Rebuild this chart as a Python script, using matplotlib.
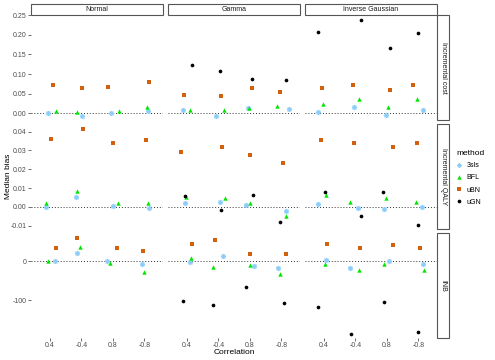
import numpy as np
import matplotlib
matplotlib.use("Agg")
import matplotlib.pyplot as plt
from matplotlib.patches import Rectangle
from matplotlib.lines import Line2D

plt.rcParams['font.family'] = ['Liberation Sans', 'DejaVu Sans']
plt.rcParams['axes.unicode_minus'] = False

# ---------------- data ----------------
correlations = ["0.4", "-0.4", "0.8", "-0.8"]
distributions = ["Normal", "Gamma", "Inverse Gaussian"]
outcomes = ["Incremental cost", "Incremental QALY", "INB"]
methods = ["3sls", "BFL", "uBN", "uGN"]

# values ordered: Normal(0.4,-0.4,0.8,-0.8), Gamma(...), Inverse Gaussian(...)
cost_3sls = [0.000, -0.006, 0.000, 0.006, 0.009, -0.006, 0.014, 0.010, 0.003, 0.016, -0.005, 0.007]
cost_BFL = [0.006, 0.003, 0.005, 0.017, 0.008, 0.008, 0.012, 0.019, 0.023, 0.035, 0.017, 0.035]
cost_uBN = [0.072, 0.065, 0.068, 0.080, 0.047, 0.045, 0.065, 0.054, 0.065, 0.071, 0.058, 0.071]
cost_uGN = [np.nan, np.nan, np.nan, np.nan, 0.122, 0.107, 0.088, 0.084, 0.207, 0.238, 0.166, 0.205]

qaly_3sls = [0.0000, 0.0053, 0.0003, -0.0004, 0.0023, 0.0024, 0.0009, -0.0021, 0.0017, -0.0007, -0.0011, 0.0000]
qaly_BFL = [0.0023, 0.0083, 0.0021, 0.0023, 0.0051, 0.0049, 0.0023, -0.0050, 0.0065, 0.0028, 0.0047, 0.0028]
qaly_uBN = [0.0360, 0.0414, 0.0340, 0.0356, 0.0291, 0.0321, 0.0278, 0.0236, 0.0358, 0.0338, 0.0320, 0.0338]
qaly_uGN = [np.nan, np.nan, np.nan, np.nan, 0.0056, -0.0018, 0.0061, -0.0078, 0.0079, -0.0046, 0.0079, -0.0094]

inb_3sls = [0, 20, 0, -8, -3, 12, -13, -17, 2, -19, 1, -8]
inb_BFL = [1, 36, -5, -27, 8, -14, -11, -34, -8, -22, -8, -22]
inb_uBN = [33, 59, 33, 27, 44, 54, 18, 18, 44, 33, 41, 33]
inb_uGN = [np.nan, np.nan, np.nan, np.nan, -103, -113, -67, -108, -117, -186, -105, -181]

# horizontal jitter (category units)
jit_cost_3sls = [-0.06, 0.03, -0.05, 0.10, -0.13, -0.07, -0.07, 0.24, -0.17, -0.04, -0.04, 0.14]
jit_cost_BFL = [0.20, -0.15, 0.18, 0.07, 0.11, 0.17, -0.03, -0.13, -0.01, 0.12, 0.04, -0.06]
jit_cost_uBN = [0.10, 0.02, -0.15, 0.13, -0.09, 0.09, 0.06, -0.05, -0.06, -0.07, 0.11, -0.16]
jit_cost_uGN = [0, 0, 0, 0, 0.17, 0.07, 0.08, 0.14, -0.18, 0.17, 0.09, -0.02]

jit_qaly_3sls = [-0.12, -0.18, -0.01, 0.13, -0.05, 0.07, -0.11, 0.14, -0.19, 0.09, -0.08, 0.11]
jit_qaly_BFL = [-0.11, -0.13, 0.17, 0.12, -0.03, 0.21, 0.02, 0.14, 0.06, -0.18, -0.04, -0.07]
jit_qaly_uBN = [0.05, 0.05, -0.01, 0.04, -0.17, 0.11, -0.01, 0.04, -0.09, -0.05, 0.19, -0.05]
jit_qaly_uGN = [0, 0, 0, 0, -0.04, 0.09, 0.09, -0.03, 0.05, 0.19, -0.12, -0.02]

jit_inb_3sls = [0.18, -0.14, -0.17, -0.07, 0.10, 0.15, 0.13, -0.12, 0.07, -0.16, 0.06, 0.14]
jit_inb_BFL = [-0.06, -0.04, -0.08, -0.01, 0.14, -0.16, 0.02, -0.06, 0.04, 0.12, -0.10, 0.19]
jit_inb_uBN = [0.19, -0.12, 0.12, -0.04, 0.16, -0.10, 0.01, 0.16, 0.09, 0.16, 0.18, 0.04]
jit_inb_uGN = [0, 0, 0, 0, -0.12, -0.18, -0.12, 0.07, -0.17, -0.12, -0.09, -0.01]

values = {
    "Incremental cost": [cost_3sls, cost_BFL, cost_uBN, cost_uGN],
    "Incremental QALY": [qaly_3sls, qaly_BFL, qaly_uBN, qaly_uGN],
    "INB": [inb_3sls, inb_BFL, inb_uBN, inb_uGN],
}
jitters = {
    "Incremental cost": [jit_cost_3sls, jit_cost_BFL, jit_cost_uBN, jit_cost_uGN],
    "Incremental QALY": [jit_qaly_3sls, jit_qaly_BFL, jit_qaly_uBN, jit_qaly_uGN],
    "INB": [jit_inb_3sls, jit_inb_BFL, jit_inb_uBN, jit_inb_uGN],
}
yticks = {
    "Incremental cost": ([0.00, 0.05, 0.10, 0.15, 0.20, 0.25], ["0.00", "0.05", "0.10", "0.15", "0.20", "0.25"]),
    "Incremental QALY": ([-0.01, 0.00, 0.01, 0.02, 0.03, 0.04], ["-0.01", "0.00", "0.01", "0.02", "0.03", "0.04"]),
    "INB": ([-100, 0], ["-100", "0"]),
}

# ---------------- styles ----------------
styles = {
    "3sls": dict(marker=(8, 2, 0), s=9, color="#8dcdf8", linewidths=0.8),
    "BFL": dict(marker="^", s=10, color="#00e600", linewidths=0),
    "uBN": dict(marker="s", s=8, color="#d2610f", linewidths=0),
    "uGN": dict(marker="o", s=7, color="black", linewidths=0),
}

W, H = 495.0, 360.0
fig = plt.figure(figsize=(W / 100, H / 100), dpi=100)

col_left = [30.7, 167.7, 304.7]
col_w = 132.7
row_top = [15.3, 124.3, 233.3]
row_h = 105.0


def rect(l, t, w, h):
    return [l / W, 1 - (t + h) / H, w / W, h / H]


for r, outcome in enumerate(outcomes):
    allv = np.concatenate([np.array(v, dtype=float) for v in values[outcome]])
    lo, hi = np.nanmin(allv), np.nanmax(allv)
    pad = 0.05 * (hi - lo)
    for c, dist in enumerate(distributions):
        ax = fig.add_axes(rect(col_left[c], row_top[r], col_w, row_h))
        ax.set_facecolor("white")
        for s in ax.spines.values():
            s.set_visible(False)
        ax.axhline(0, color="#333333", lw=0.7, ls=(0, (1, 2)), zorder=1)
        for m, meth in enumerate(methods):
            vals = np.array(values[outcome][m][4 * c:4 * c + 4], dtype=float)
            jit = np.array(jitters[outcome][m][4 * c:4 * c + 4], dtype=float)
            xs = np.arange(4) + jit
            ax.scatter(xs, vals, zorder=3, **styles[meth])
        ax.set_xlim(-0.6, 3.6)
        ax.set_ylim(lo - pad, hi + pad)
        ax.set_xticks(range(4))
        ax.set_xticklabels(correlations)
        tv, tl = yticks[outcome]
        ax.set_yticks(tv)
        ax.set_yticklabels(tl)
        ax.tick_params(length=2, width=0.5, color="#333333", labelsize=5,
                       labelcolor="#4d4d4d", pad=1)
        if c != 0:
            ax.tick_params(axis="y", left=False, labelleft=False)
        if r != 2:
            ax.tick_params(axis="x", bottom=False, labelbottom=False)

# top strips
for c, dist in enumerate(distributions):
    fig.patches.append(Rectangle((col_left[c] / W, 1 - 15.3 / H), col_w / W, 11.3 / H,
                                 transform=fig.transFigure, facecolor="white",
                                 edgecolor="#555555", lw=0.8))
    fig.text((col_left[c] + col_w / 2) / W, 1 - 9.6 / H, dist, ha="center", va="center",
             fontsize=5, color="#1a1a1a")

# right strips
sx = col_left[2] + col_w
for r, outcome in enumerate(outcomes):
    fig.patches.append(Rectangle((sx / W, 1 - (row_top[r] + row_h) / H), 11.5 / W, row_h / H,
                                 transform=fig.transFigure, facecolor="white",
                                 edgecolor="#555555", lw=0.8))
    fig.text((sx + 5.75) / W, 1 - (row_top[r] + row_h / 2) / H, outcome, ha="center",
             va="center", rotation=-90, fontsize=5, color="#1a1a1a")

# axis titles
fig.text((col_left[0] + col_left[2] + col_w) / 2 / W, 1 - 352 / H, "Correlation",
         ha="center", va="center", fontsize=6)
fig.text(9 / W, 1 - 176.6 / H, "Median bias", ha="center", va="center",
         rotation=90, fontsize=6)

# legend
handles = []
for meth in methods:
    st = styles[meth]
    handles.append(Line2D([], [], linestyle="none", marker=st["marker"], color=st["color"],
                          markersize=np.sqrt(st["s"]),
                          markeredgewidth=st["linewidths"] if meth == "3sls" else 0))
leg = fig.legend(handles, methods, loc="upper left", bbox_to_anchor=(456 / W, 1 - 150 / H),
                 frameon=False, fontsize=5, title="method", title_fontsize=6,
                 handletextpad=0.5, labelspacing=0.75, handlelength=1.0,
                 borderpad=0, borderaxespad=0)
leg._legend_box.align = "left"

fig.savefig("out.png", dpi=100)
